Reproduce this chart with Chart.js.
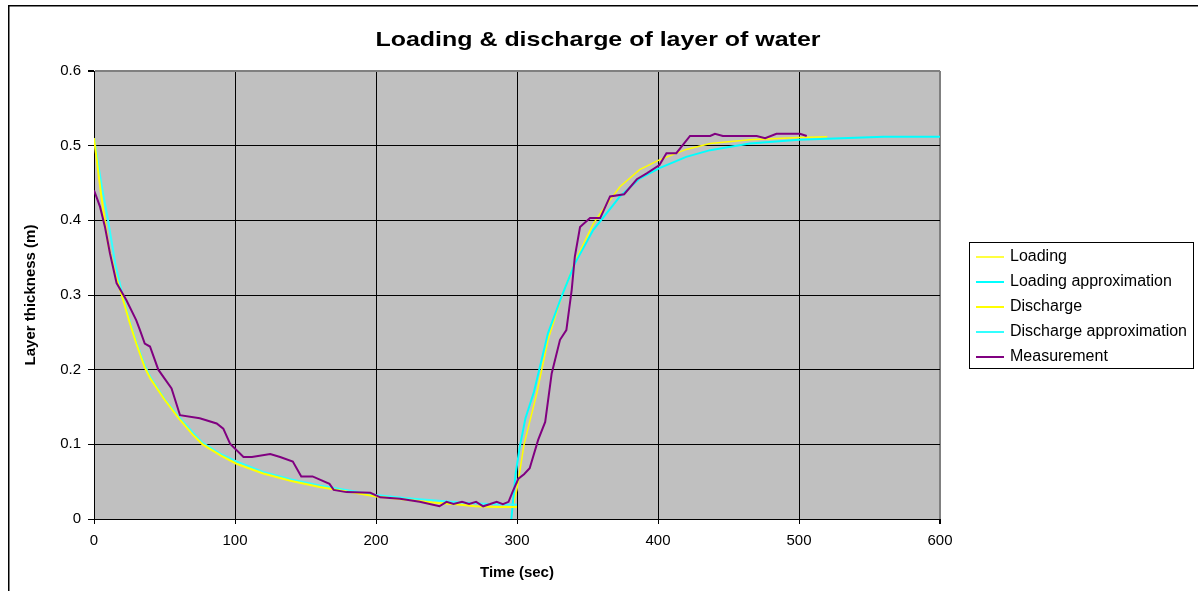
<!DOCTYPE html>
<html>
<head>
<meta charset="utf-8">
<title>Loading & discharge of layer of water</title>
<script src="https://cdn.jsdelivr.net/npm/chart.js@4.4.1/dist/chart.umd.min.js"></script>
<style>
  html, body { margin: 0; padding: 0; background: #fff; overflow: hidden; }
  canvas { display: block; }
</style>
</head>
<body>
<canvas id="chart" width="1198" height="591"></canvas>
<script>
// time (sec) and layer thickness (m)
const loadingT = [297, 300, 305, 314, 322, 332, 342, 354, 360, 373, 387, 401, 420, 437, 465, 500, 520];
const loadingV = [0.017, 0.04, 0.1, 0.168, 0.24, 0.3, 0.348, 0.395, 0.412, 0.445, 0.468, 0.481, 0.495, 0.503, 0.508, 0.511, 0.512];

const loadingApproxT = [296, 299, 302, 306, 312, 322, 332, 341, 354, 368, 373, 387, 401, 420, 437, 465, 500, 530, 560, 600];
const loadingApproxV = [0, 0.06, 0.097, 0.135, 0.17, 0.249, 0.3, 0.342, 0.387, 0.42, 0.432, 0.456, 0.47, 0.485, 0.494, 0.503, 0.508, 0.51, 0.512, 0.512];

const dischargeT = [0, 5, 10, 15, 20, 25, 30, 36, 40, 50, 60, 70, 77, 90, 101, 120, 140, 160, 182, 200, 220, 240, 260, 270, 285, 300];
const dischargeV = [0.51, 0.435, 0.368, 0.328, 0.298, 0.265, 0.235, 0.203, 0.188, 0.16, 0.135, 0.113, 0.1, 0.085, 0.074, 0.061, 0.051, 0.043, 0.036, 0.03, 0.026, 0.022, 0.019, 0.017, 0.016, 0.016];

const dischargeApproxT = [0, 3, 6, 10, 15, 20, 25, 30, 36, 40, 50, 60, 70, 77, 90, 101, 120, 140, 160, 182, 200, 220, 240, 260, 280, 300];
const dischargeApproxV = [0.51, 0.475, 0.44, 0.4, 0.343, 0.302, 0.267, 0.237, 0.206, 0.19, 0.161, 0.137, 0.116, 0.102, 0.087, 0.077, 0.063, 0.053, 0.045, 0.038, 0.032, 0.028, 0.025, 0.022, 0.02, 0.019];

const measT = [0, 2, 4.3, 7.8, 11.3, 16, 23, 30, 32.6, 36, 39.7, 45.6, 55, 61, 75, 87, 91.7, 96.5, 106, 112,
  125, 132, 141, 147, 155, 167, 170, 179, 196, 203, 217, 231, 245, 250, 255, 261, 266, 271, 276, 281,
  285.6, 290, 294, 297, 301, 305, 309, 315, 320, 324.6, 330.5, 335, 338.8, 341, 344.7, 351.8, 359, 366, 376, 385,
  392, 401, 406, 413, 422.7, 437, 440.4, 446, 470, 476, 484, 500.7, 505.5];
const measV = [0.44, 0.43, 0.418, 0.391, 0.356, 0.316, 0.293, 0.266, 0.253, 0.235, 0.231, 0.2, 0.175, 0.139, 0.135, 0.128, 0.121, 0.101, 0.083, 0.083,
  0.087, 0.083, 0.077, 0.057, 0.057, 0.047, 0.039, 0.036, 0.035, 0.029, 0.027, 0.023, 0.017, 0.023, 0.02, 0.023, 0.02, 0.023, 0.017, 0.02,
  0.023, 0.02, 0.023, 0.037, 0.054, 0.06, 0.068, 0.106, 0.13, 0.195, 0.24, 0.253, 0.307, 0.351, 0.391, 0.403, 0.403, 0.432, 0.435, 0.455,
  0.463, 0.474, 0.49, 0.49, 0.513, 0.513, 0.516, 0.513, 0.513, 0.51, 0.516, 0.516, 0.513];

const chartTitle = "Loading & discharge of layer of water";

function pts(xs, ys) {
  return xs.map((x, i) => ({ x: x, y: ys[i] }));
}

Chart.defaults.font.family = "'Liberation Sans', Arial, sans-serif";
Chart.defaults.color = "#000";

// grey plot area
const plotBg = {
  id: "plotBg",
  beforeDraw(chart) {
    const a = chart.chartArea;
    const ctx = chart.ctx;
    ctx.save();
    ctx.fillStyle = "#C0C0C0";
    ctx.fillRect(a.left, a.top, a.right - a.left, a.bottom - a.top);
    ctx.restore();
  }
};

// frame, title and legend drawn the Excel way
const extras = {
  id: "extras",
  afterDraw(chart) {
    const ctx = chart.ctx;
    ctx.save();

    // outer frame (left and top edges only are inside the picture)
    ctx.strokeStyle = "#000";
    ctx.lineWidth = 1.5;
    ctx.beginPath();
    ctx.moveTo(8.75, 591);
    ctx.lineTo(8.75, 5.75);
    ctx.lineTo(1198, 5.75);
    ctx.stroke();

    // title, a little wider than normal like the source
    ctx.font = "bold 21px 'Liberation Sans', Arial, sans-serif";
    ctx.fillStyle = "#000";
    ctx.textAlign = "center";
    ctx.textBaseline = "middle";
    const w = ctx.measureText(chartTitle).width;
    ctx.save();
    ctx.translate(598, 40);
    ctx.scale(445 / w, 1);
    ctx.fillText(chartTitle, 0, 0);
    ctx.restore();

    // legend
    ctx.lineWidth = 1;
    ctx.strokeStyle = "#000";
    ctx.strokeRect(969.5, 242.5, 224, 126);
    ctx.font = "16px 'Liberation Sans', Arial, sans-serif";
    ctx.textAlign = "left";
    chart.data.datasets.forEach((ds, i) => {
      const y = 257 + i * 25;
      ctx.strokeStyle = ds.borderColor;
      ctx.lineWidth = ds.borderWidth;
      ctx.beginPath();
      ctx.moveTo(976, y);
      ctx.lineTo(1004, y);
      ctx.stroke();
      ctx.fillStyle = "#000";
      ctx.fillText(ds.label, 1010, y);
    });
    ctx.restore();
  }
};

const near = (a, b) => Math.abs(a - b) < 1e-9;

new Chart(document.getElementById("chart"), {
  type: "scatter",
  data: {
    datasets: [
      { label: "Loading", data: pts(loadingT, loadingV), borderColor: "#FFFF00", borderWidth: 1.5, order: 4 },
      { label: "Loading approximation", data: pts(loadingApproxT, loadingApproxV), borderColor: "#00FFFF", borderWidth: 2, order: 3 },
      { label: "Discharge", data: pts(dischargeT, dischargeV), borderColor: "#FFFF00", borderWidth: 2, order: 1 },
      { label: "Discharge approximation", data: pts(dischargeApproxT, dischargeApproxV), borderColor: "#33FFFF", borderWidth: 2, order: 2 },
      { label: "Measurement", data: pts(measT, measV), borderColor: "#800080", borderWidth: 2, order: 0 }
    ].map(ds => Object.assign(ds, { showLine: true, pointRadius: 0, pointHoverRadius: 0, tension: 0, fill: false }))
  },
  options: {
    responsive: false,
    animation: false,
    layout: { padding: { top: 71, right: 258, bottom: 0, left: 0 } },
    plugins: {
      legend: { display: false },
      title: { display: false },
      tooltip: { enabled: false }
    },
    scales: {
      x: {
        type: "linear",
        min: 0,
        max: 600,
        ticks: { stepSize: 100, padding: 8, font: { size: 15 }, color: "#000" },
        grid: {
          color: c => near(c.tick.value, 600) ? "#808080" : "#000",
          lineWidth: c => near(c.tick.value, 600) ? 2 : 1,
          tickColor: "#000",
          tickLength: 5
        },
        border: { color: "#000", width: 1 },
        title: { display: true, text: "Time (sec)", font: { size: 15, weight: "bold" }, padding: { top: 0, bottom: 9 } },
        afterFit(scale) { scale.height = 72; }
      },
      y: {
        min: 0,
        max: 0.6,
        ticks: { stepSize: 0.1, padding: 7, font: { size: 15 }, color: "#000" },
        grid: {
          color: c => near(c.tick.value, 0.6) ? "#808080" : "#000",
          lineWidth: c => near(c.tick.value, 0.6) ? 2 : 1,
          tickColor: "#000",
          tickLength: 6
        },
        border: { color: "#000", width: 1 },
        title: { display: true, text: "Layer thickness (m)", font: { size: 15, weight: "bold" }, padding: { top: 22, bottom: 0 } },
        afterFit(scale) { scale.width = 94; }
      }
    }
  },
  plugins: [plotBg, extras]
});
</script>
</body>
</html>
